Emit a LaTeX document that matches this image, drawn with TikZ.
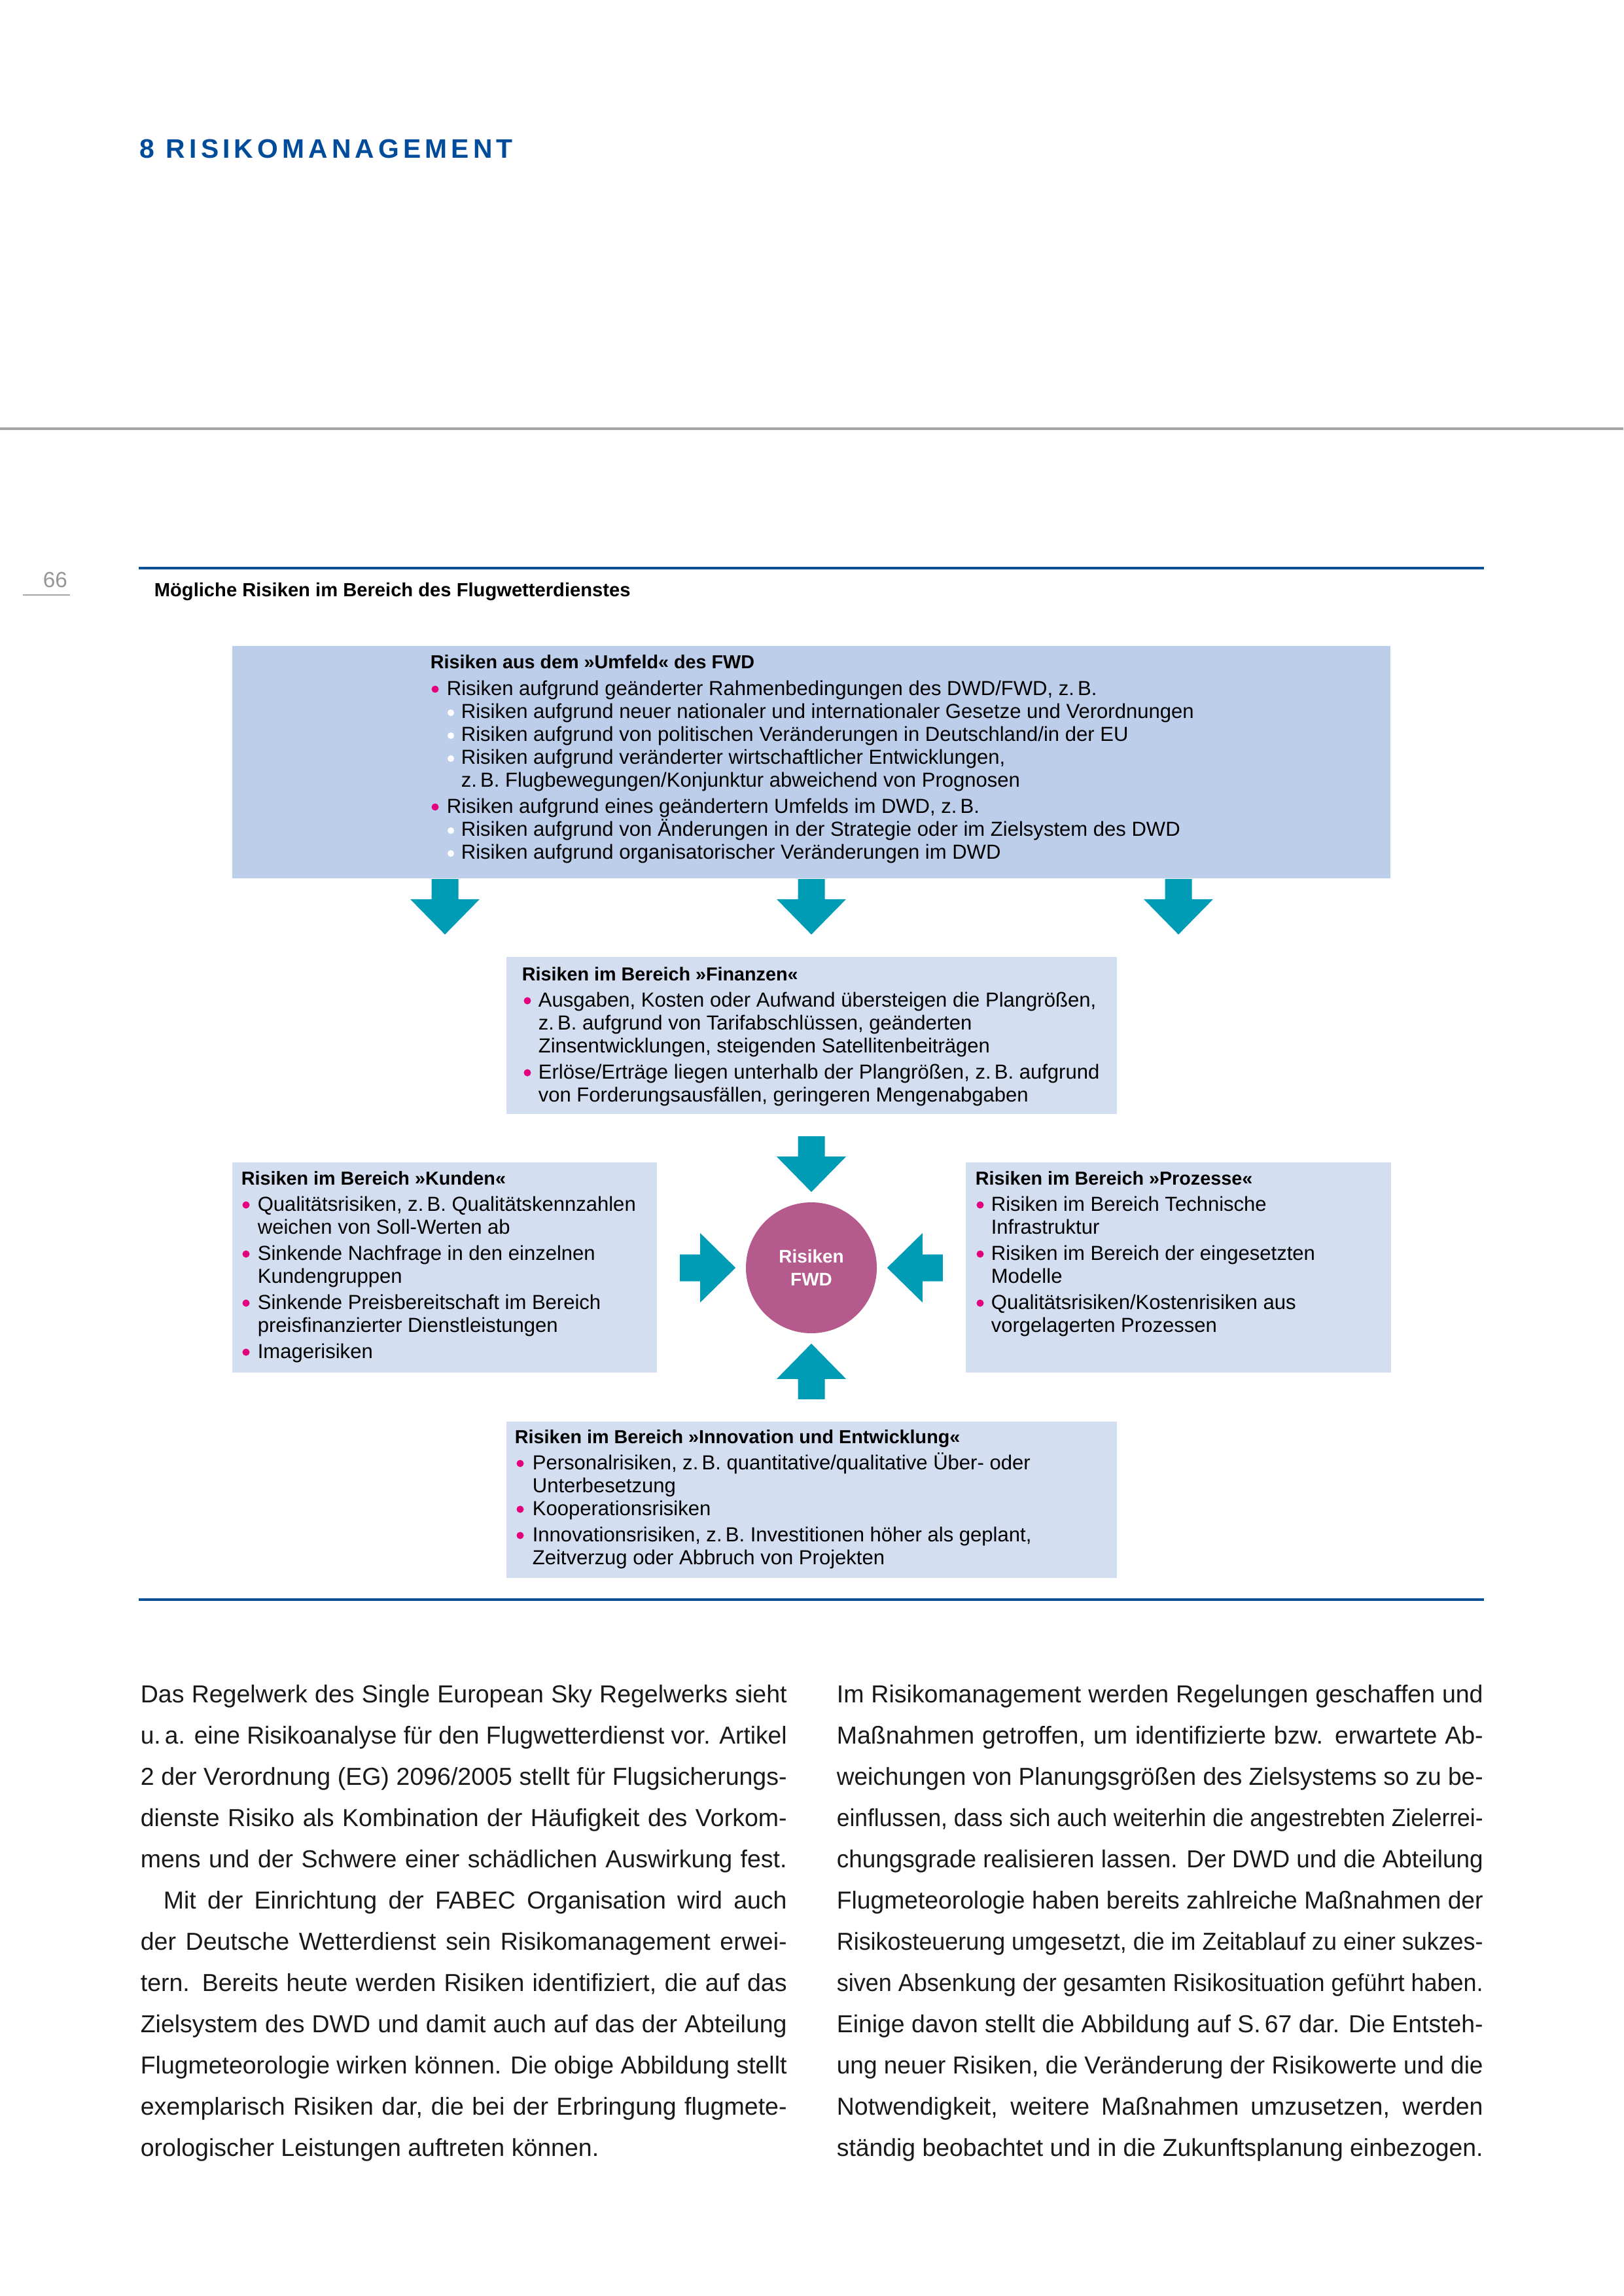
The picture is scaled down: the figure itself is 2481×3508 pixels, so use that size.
\documentclass[tikz,border=0pt]{standalone}
\usepackage{fontspec}
\setmainfont{Liberation Sans}
\newfontfamily\headfont{Liberation Sans}[LetterSpace=15]
\usetikzlibrary{fit,calc}
\definecolor{dwdblue}{RGB}{0,76,155}
\definecolor{rulec}{RGB}{14,80,145}
\definecolor{greyrule}{RGB}{165,165,165}
\definecolor{pagegrey}{RGB}{150,150,150}
\definecolor{boxdark}{RGB}{189,206,235}
\definecolor{boxlight}{RGB}{211,222,241}
\definecolor{arrowc}{RGB}{0,155,181}
\definecolor{circc}{RGB}{180,90,140}
\definecolor{bulletc}{RGB}{228,0,125}
\definecolor{bodyc}{RGB}{25,25,25}
\newlength\colw
\setlength\colw{237.1pt}
\newlength\natw
\newcommand{\fitline}[1]{\settowidth{\natw}{#1}\ifdim\natw<\colw\makebox[\colw][s]{#1}\else\resizebox{\colw}{\height}{#1}\fi}
\newcommand{\dgLine}[4]{\node[txt] (#1) at (#2,#3) {#4};}
\newcommand{\dgHead}[4]{\node[hd] (#1) at (#2,#3) {#4};}
\newcommand{\dgMain}[2]{\fill[bulletc] (#1,#2-9) circle (5.5);}
\newcommand{\dgSub}[2]{\fill[white] (#1,#2-8) circle (5);}
\newcommand{\bodyJ}[4]{\node[body] (#1) at (#2,#3) {\fitline{#4}};}
\newcommand{\bodyN}[4]{\node[body] (#1) at (#2,#3) {#4};}
\begin{document}
\begin{tikzpicture}[x=0.24pt,y=-0.24pt,
  txt/.style={inner sep=0pt, anchor=base west, font=\fontsize{7.45}{8.6}\selectfont},
  hd/.style={inner sep=0pt, anchor=base west, font=\bfseries\fontsize{6.9}{8.6}\selectfont},
  body/.style={inner sep=0pt, anchor=base west, text=bodyc, font=\fontsize{9}{15}\selectfont},
  boxA/.style={fill=boxdark, inner sep=0pt, draw=none},
  boxB/.style={fill=boxlight, inner sep=0pt, draw=none},
  barrow/.pic={\fill[arrowc] (-20.5,0) -- (-20.5,31) -- (-53,31) -- (0,85) -- (53,31) -- (20.5,31) -- (20.5,0) -- cycle;}
]
\useasboundingbox (0,0) rectangle (2481,3508);
\fill[white] (0,0) rectangle (2481,3508);

% header
\node[inner sep=0pt, anchor=base west, text=dwdblue, font=\headfont\bfseries\fontsize{9.8}{11}\selectfont] (title) at (213,242) {8 RISIKOMANAGEMENT};
\draw[greyrule, line width=0.75pt] (0,655) -- (2481,655);

% page number
\node[inner sep=0pt, anchor=base west, text=pagegrey, font=\fontsize{8}{9}\selectfont] (pnum) at (65,898) {66};
\draw[greyrule, line width=0.7pt] (35,909) -- (107,909);

% rules and caption
\draw[rulec, line width=0.75pt] (212,868) -- (2268,868);
\node[inner sep=0pt, anchor=base west, font=\bfseries\fontsize{7}{8}\selectfont] (caption) at (235,912) {Mögliche Risiken im Bereich des Flugwetterdienstes};
\draw[rulec, line width=0.75pt] (212,2444) -- (2268,2444);

% boxes
\node[boxA, fit={(355,987) (2125,1342)}] (umfeld) {};
\node[boxB, fit={(774,1462) (1707,1702)}] (finanzen) {};
\node[boxB, fit={(355,1776) (1004,2097)}] (kunden) {};
\node[boxB, fit={(1476,1776) (2126,2097)}] (prozesse) {};
\node[boxB, fit={(774,2172) (1707,2411)}] (innov) {};
\node[circle, fill=circc, minimum size=48pt, inner sep=0pt, text=white, align=center,
      font=\bfseries\fontsize{6.7}{8.4}\selectfont] (risk) at (1240,1937) {Risiken\\FWD};

% arrows
\pic at ($(umfeld.south)+(-560,0)$) {barrow};
\pic at (umfeld.south) {barrow};
\pic at ($(umfeld.south)+(561,0)$) {barrow};
\pic at ($(risk.north)+(0,-100)$) {barrow};
\pic[rotate=180] at ($(risk.south)+(0,100)$) {barrow};
\pic[rotate=90] at ($(risk.west)+(-100,0)$) {barrow};
\pic[rotate=-90] at ($(risk.east)+(100,0)$) {barrow};

% Umfeld box text
\dgHead{uh}{657}{1022}{Risiken aus dem »Umfeld« des FWD}
\dgMain{665}{1062}\dgLine{u1}{682}{1062}{Risiken aufgrund geänderter Rahmenbedingungen des DWD/FWD, z.\,B.}
\dgSub{689}{1097}\dgLine{u2}{704}{1097}{Risiken aufgrund neuer nationaler und internationaler Gesetze und Verordnungen}
\dgSub{689}{1132}\dgLine{u3}{704}{1132}{Risiken aufgrund von politischen Veränderungen in Deutschland/in der EU}
\dgSub{689}{1167}\dgLine{u4}{704}{1167}{Risiken aufgrund veränderter wirtschaftlicher Entwicklungen,}
\dgLine{u5}{704}{1202}{z.\,B. Flugbewegungen/Konjunktur abweichend von Prognosen}
\dgMain{665}{1242}\dgLine{u6}{682}{1242}{Risiken aufgrund eines geändertern Umfelds im DWD, z.\,B.}
\dgSub{689}{1277}\dgLine{u7}{704}{1277}{Risiken aufgrund von Änderungen in der Strategie oder im Zielsystem des DWD}
\dgSub{689}{1312}\dgLine{u8}{704}{1312}{Risiken aufgrund organisatorischer Veränderungen im DWD}

% Finanzen
\dgHead{fh}{797}{1498}{Risiken im Bereich »Finanzen«}
\dgMain{806}{1538}\dgLine{f1}{822}{1538}{Ausgaben, Kosten oder Aufwand übersteigen die Plangrößen,}
\dgLine{f2}{822}{1573}{z.\,B. aufgrund von Tarifabschlüssen, geänderten}
\dgLine{f3}{822}{1608}{Zinsentwicklungen, steigenden Satellitenbeiträgen}
\dgMain{806}{1648}\dgLine{f4}{822}{1648}{Erlöse/Erträge liegen unterhalb der Plangrößen, z.\,B. aufgrund}
\dgLine{f5}{822}{1683}{von Forderungsausfällen, geringeren Mengenabgaben}

% Kunden
\dgHead{kh}{368}{1810}{Risiken im Bereich »Kunden«}
\dgMain{376}{1850}\dgLine{k1}{393}{1850}{Qualitätsrisiken, z.\,B. Qualitätskennzahlen}
\dgLine{k2}{393}{1885}{weichen von Soll-Werten ab}
\dgMain{376}{1925}\dgLine{k3}{393}{1925}{Sinkende Nachfrage in den einzelnen}
\dgLine{k4}{393}{1960}{Kundengruppen}
\dgMain{376}{2000}\dgLine{k5}{393}{2000}{Sinkende Preisbereitschaft im Bereich}
\dgLine{k6}{393}{2035}{preisfinanzierter Dienstleistungen}
\dgMain{376}{2075}\dgLine{k7}{393}{2075}{Imagerisiken}

% Prozesse
\dgHead{ph}{1490}{1810}{Risiken im Bereich »Prozesse«}
\dgMain{1498}{1850}\dgLine{p1}{1514}{1850}{Risiken im Bereich Technische}
\dgLine{p2}{1514}{1885}{Infrastruktur}
\dgMain{1498}{1925}\dgLine{p3}{1514}{1925}{Risiken im Bereich der eingesetzten}
\dgLine{p4}{1514}{1960}{Modelle}
\dgMain{1498}{2000}\dgLine{p5}{1514}{2000}{Qualitätsrisiken/Kostenrisiken aus}
\dgLine{p6}{1514}{2035}{vorgelagerten Prozessen}

% Innovation
\dgHead{ih}{786}{2205}{Risiken im Bereich »Innovation und Entwicklung«}
\dgMain{795}{2245}\dgLine{i1}{813}{2245}{Personalrisiken, z.\,B. quantitative/qualitative Über- oder}
\dgLine{i2}{813}{2280}{Unterbesetzung}
\dgMain{795}{2315}\dgLine{i3}{813}{2315}{Kooperationsrisiken}
\dgMain{795}{2355}\dgLine{i4}{813}{2355}{Innovationsrisiken, z.\,B. Investitionen höher als geplant,}
\dgLine{i5}{813}{2390}{Zeitverzug oder Abbruch von Projekten}

% body text left column
\bodyJ{l1}{214}{2601}{Das Regelwerk des Single European Sky Regelwerks sieht}
\bodyJ{l2}{214}{2664}{u.\,a. eine Risikoanalyse für den Flugwetterdienst vor. Artikel}
\bodyJ{l3}{214}{2727}{2 der Verordnung (EG) 2096/2005 stellt für Flugsicherungs-}
\bodyJ{l4}{214}{2790}{dienste Risiko als Kombination der Häufigkeit des Vorkom-}
\bodyJ{l5}{214}{2853}{mens und der Schwere einer schädlichen Auswirkung fest.}
\bodyJ{l6}{214}{2916}{\hspace{8.4pt}Mit der Einrichtung der FABEC Organisation wird auch}
\bodyJ{l7}{214}{2979}{der Deutsche Wetterdienst sein Risikomanagement erwei-}
\bodyJ{l8}{214}{3042}{tern. Bereits heute werden Risiken identifiziert, die auf das}
\bodyJ{l9}{214}{3105}{Zielsystem des DWD und damit auch auf das der Abteilung}
\bodyJ{l10}{214}{3168}{Flugmeteorologie wirken können. Die obige Abbildung stellt}
\bodyJ{l11}{214}{3231}{exemplarisch Risiken dar, die bei der Erbringung flugmete-}
\bodyN{l12}{214}{3294}{orologischer Leistungen auftreten können.}

% body text right column
\bodyJ{r1}{1278}{2601}{Im Risikomanagement werden Regelungen geschaffen und}
\bodyJ{r2}{1278}{2664}{Maßnahmen getroffen, um identifizierte bzw. erwartete Ab-}
\bodyJ{r3}{1278}{2727}{weichungen von Planungsgrößen des Zielsystems so zu be-}
\bodyJ{r4}{1278}{2790}{einflussen, dass sich auch weiterhin die angestrebten Zielerrei-}
\bodyJ{r5}{1278}{2853}{chungsgrade realisieren lassen. Der DWD und die Abteilung}
\bodyJ{r6}{1278}{2916}{Flugmeteorologie haben bereits zahlreiche Maßnahmen der}
\bodyJ{r7}{1278}{2979}{Risikosteuerung umgesetzt, die im Zeitablauf zu einer sukzes-}
\bodyJ{r8}{1278}{3042}{siven Absenkung der gesamten Risikosituation geführt haben.}
\bodyJ{r9}{1278}{3105}{Einige davon stellt die Abbildung auf S.\,67 dar. Die Entsteh-}
\bodyJ{r10}{1278}{3168}{ung neuer Risiken, die Veränderung der Risikowerte und die}
\bodyJ{r11}{1278}{3231}{Notwendigkeit, weitere Maßnahmen umzusetzen, werden}
\bodyJ{r12}{1278}{3294}{ständig beobachtet und in die Zukunftsplanung einbezogen.}
\end{tikzpicture}
\end{document}
